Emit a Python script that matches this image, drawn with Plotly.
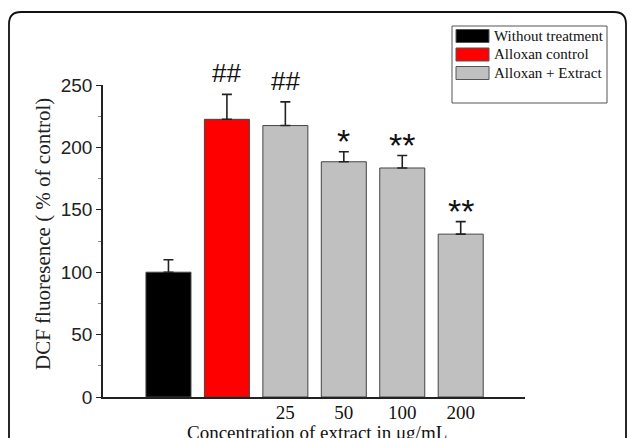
import plotly.graph_objects as go

# ---- data ----
groups = ["Without treatment", "Alloxan control", "Alloxan + Extract"]
group_colors = ["#000000", "#ff0000", "#c0c0c0"]
bar_group = [0, 1, 2, 2, 2, 2]
bar_values = [100.0, 222.5, 217.5, 188.5, 183.5, 130.5]
bar_errors = [10.0, 20.0, 19.0, 8.0, 10.0, 10.0]
sig_labels = ["", "##", "##", "*", "**", "**"]
tick_positions = [2, 3, 4, 5]
tick_labels = ["25", "50", "100", "200"]
y_ticks = [0, 50, 100, 150, 200, 250]
x_title = "Concentration of extract in μg/mL"
y_title = "DCF fluoresence ( % of control)"

SERIF = "Liberation Serif, Times New Roman, serif"
SANS = "Liberation Sans, Arial, sans-serif"

fig = go.Figure()
for gi, name in enumerate(groups):
    xs = [i for i, g in enumerate(bar_group) if g == gi]
    fig.add_trace(go.Bar(
        x=xs,
        y=[bar_values[i] for i in xs],
        error_y=dict(type="data", array=[bar_errors[i] for i in xs],
                     symmetric=False, arrayminus=[0] * len(xs),
                     color="#222222", thickness=1.6, width=5),
        marker=dict(color=group_colors[gi], line=dict(color="#444444", width=1)),
        name=name,
        showlegend=False,
        hoverinfo="skip",
    ))

# significance labels
for i, lab in enumerate(sig_labels):
    if not lab:
        continue
    star = lab.startswith("*")
    fig.add_annotation(
        x=i, y=bar_values[i] + bar_errors[i], xref="x", yref="y",
        text=lab, showarrow=False, yanchor="bottom",
        yshift=-10 if star else 4,
        font=dict(family=SANS, size=34 if star else 26, color="#111111"),
    )

# pixel -> paper helpers (plot area spans x 103..525, y 85..397)
def px_to_paper_x(px):
    return (px - 103) / 422.0

def px_to_paper_y(py):
    return (397 - py) / 312.0

# custom legend (box, swatches, labels)
fig.add_shape(type="rect", xref="paper", yref="paper",
              x0=px_to_paper_x(452), x1=px_to_paper_x(607),
              y0=px_to_paper_y(103), y1=px_to_paper_y(26),
              line=dict(color="#555555", width=1), fillcolor="white", layer="above")
for k, name in enumerate(groups):
    cy = 36 + k * 18.5
    fig.add_shape(type="rect", xref="paper", yref="paper",
                  x0=px_to_paper_x(456), x1=px_to_paper_x(489),
                  y0=px_to_paper_y(cy + 6.5), y1=px_to_paper_y(cy - 6.5),
                  line=dict(color="#555555", width=1), fillcolor=group_colors[k],
                  layer="above")
    fig.add_annotation(x=px_to_paper_x(492), y=px_to_paper_y(cy), xref="paper",
                       yref="paper", text=name, showarrow=False, xanchor="left",
                       yanchor="middle",
                       font=dict(family=SERIF, size=15, color="#111111"))

# axis titles
fig.add_annotation(x=px_to_paper_x(317), y=px_to_paper_y(432), xref="paper",
                   yref="paper", text=x_title, showarrow=False,
                   xanchor="center", yanchor="middle",
                   font=dict(family=SERIF, size=19, color="#111111"))
fig.add_annotation(x=px_to_paper_x(43), y=px_to_paper_y(234), xref="paper",
                   yref="paper", text=y_title, showarrow=False, textangle=-90,
                   xanchor="center", yanchor="middle",
                   font=dict(family=SERIF, size=21, color="#222222"))

# rounded outer frame
x0, x1 = px_to_paper_x(9), px_to_paper_x(626)
yt, yb = px_to_paper_y(12), px_to_paper_y(445)
rx, ry = 12 / 422.0, 12 / 312.0
path = (f"M {x0},{yb} L {x0},{yt - ry} Q {x0},{yt} {x0 + rx},{yt} "
        f"L {x1 - rx},{yt} Q {x1},{yt} {x1},{yt - ry} L {x1},{yb}")
fig.add_shape(type="path", xref="paper", yref="paper", path=path,
              line=dict(color="#111111", width=1.8))

fig.update_layout(
    width=630, height=438,
    margin=dict(l=103, r=105, t=85, b=41),
    paper_bgcolor="white", plot_bgcolor="white",
    barmode="overlay", bargap=0.23,
    showlegend=False,
    xaxis=dict(range=[-1.12, 6.1], tickmode="array", tickvals=tick_positions,
               ticktext=tick_labels, ticks="", showgrid=False, zeroline=False,
               showline=True, linecolor="#222222", linewidth=1.5,
               automargin=False, ticklabelstandoff=-3,
               tickfont=dict(family=SERIF, size=19, color="#111111")),
    yaxis=dict(range=[0, 250], tickmode="array", tickvals=y_ticks,
               ticks="outside", ticklen=5, tickwidth=1.3, tickcolor="#222222",
               minor=dict(ticks="outside", ticklen=3, tickcolor="#888888",
                          dtick=25, tick0=0),
               showgrid=False, zeroline=False, showline=True,
               linecolor="#222222", linewidth=1.5, automargin=False,
               tickfont=dict(family=SANS, size=19, color="#222222")),
)

fig.write_html("out.html",
               config={"displayModeBar": False},
               post_script="document.body.style.margin='0';"
                           "document.body.style.overflow='hidden';")
